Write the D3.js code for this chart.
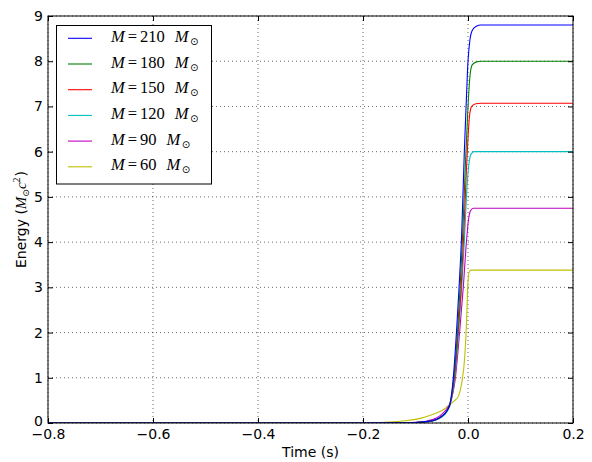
<!DOCTYPE html>
<html><head><meta charset="utf-8">
<script src="https://cdn.jsdelivr.net/npm/d3@7"></script>
<style>body{margin:0;background:#fff}svg{display:block}</style>
</head><body><svg id="c" width="592" height="462"></svg>
<script>
const xTicks = [-0.8, -0.6, -0.4, -0.2, 0.0, 0.2];
const yTicks = [0,1,2,3,4,5,6,7,8,9];
const masses = [210, 180, 150, 120, 90, 60];
const colors = ["#0000ff", "#008000", "#ff0000", "#00bfbf", "#bf00bf", "#bfbf00"];

const t210 = [-0.8,-0.2,-0.15,-0.1,-0.08,-0.06,-0.05,-0.04,-0.034,-0.028,-0.022,-0.017,-0.012,-0.007,-0.003,0.0,0.004,0.008,0.015,0.025,0.2];
const e210 = [0,0,0.003,0.01,0.03,0.08,0.15,0.27,0.44,1.0,2.0,3.0,4.2,6.0,7.2,8.0,8.5,8.68,8.77,8.8,8.8];
const t180 = [-0.8,-0.2,-0.15,-0.1,-0.08,-0.06,-0.05,-0.04,-0.034,-0.027,-0.02,-0.015,-0.01,-0.005,0.0,0.004,0.008,0.015,0.025,0.2];
const e180 = [0,0,0.003,0.01,0.03,0.08,0.15,0.27,0.44,1.0,2.0,3.0,4.2,5.7,7.0,7.7,7.92,7.98,8.0,8.0];
const t150 = [-0.8,-0.2,-0.15,-0.1,-0.08,-0.06,-0.05,-0.04,-0.034,-0.026,-0.019,-0.013,-0.008,-0.003,0.0,0.003,0.007,0.015,0.025,0.2];
const e150 = [0,0,0.003,0.01,0.03,0.08,0.15,0.27,0.42,1.0,2.0,3.0,4.2,5.6,6.3,6.8,7.0,7.06,7.07,7.07];
const t120 = [-0.8,-0.2,-0.15,-0.1,-0.08,-0.06,-0.05,-0.04,-0.034,-0.025,-0.018,-0.012,-0.007,-0.002,0.002,0.006,0.012,0.02,0.2];
const e120 = [0,0,0.002,0.008,0.025,0.07,0.13,0.25,0.4,1.0,2.0,3.0,4.0,5.2,5.75,5.95,6.0,6.0,6.0];
const t90 = [-0.8,-0.2,-0.15,-0.1,-0.08,-0.06,-0.05,-0.04,-0.034,-0.024,-0.016,-0.009,-0.003,0.001,0.005,0.01,0.02,0.2];
const e90 = [0,0,0.004,0.015,0.04,0.11,0.19,0.32,0.44,1.0,2.0,3.0,4.0,4.5,4.7,4.75,4.75,4.75];
const t60 = [-0.8,-0.2,-0.15,-0.12,-0.1,-0.08,-0.06,-0.045,-0.034,-0.025,-0.018,-0.012,-0.006,-0.0025,-0.0006,0.0025,0.006,0.02,0.2];
const e60 = [0,0,0.02,0.05,0.08,0.14,0.22,0.31,0.42,0.5,0.6,0.88,1.5,2.3,3.0,3.35,3.38,3.38,3.38];

const seriesT = [t210, t180, t150, t120, t90, t60];
const seriesE = [e210, e180, e150, e120, e90, e60];

const svg = d3.select("#c");
const L = 48, R = 573, T = 16, B = 423;
const x = d3.scaleLinear().domain([-0.8, 0.2]).range([L, R]);
const y = d3.scaleLinear().domain([0, 9]).range([B, T]);
const font = "DejaVu Sans, sans-serif";
const mathFont = "Liberation Serif, serif";

// grid
const g = svg.append("g");
xTicks.forEach(v => g.append("line").attr("x1", x(v)).attr("x2", x(v)).attr("y1", T).attr("y2", B)
  .attr("stroke", "#000").attr("stroke-width", 0.6).attr("stroke-dasharray", "1,3"));
yTicks.forEach(v => g.append("line").attr("x1", L).attr("x2", R).attr("y1", y(v)).attr("y2", y(v))
  .attr("stroke", "#000").attr("stroke-width", 0.6).attr("stroke-dasharray", "1,3"));

// lines
svg.append("clipPath").attr("id", "pc").append("rect").attr("x", L).attr("y", T).attr("width", R - L).attr("height", B - T);
const line = d3.line().x(d => x(d[0])).y(d => y(d[1])).curve(d3.curveMonotoneX);
for (let i = seriesT.length - 1; i >= 0; i--) {
  const pts = seriesT[i].map((t, j) => [t, seriesE[i][j]]);
  svg.append("path").attr("d", line(pts)).attr("fill", "none").attr("stroke", colors[i])
    .attr("stroke-width", 1.1).attr("clip-path", "url(#pc)");
}

// axes with inward ticks
const axB = svg.append("g").attr("transform", `translate(0,${B})`).call(d3.axisBottom(x).tickValues(xTicks).tickSizeInner(-5).tickSizeOuter(0).tickFormat(d => d3.format(".1f")(d).replace("-", "\u2212")));
const axT = svg.append("g").attr("transform", `translate(0,${T})`).call(d3.axisTop(x).tickValues(xTicks).tickSizeInner(-5).tickSizeOuter(0).tickFormat(""));
const axL = svg.append("g").attr("transform", `translate(${L},0)`).call(d3.axisLeft(y).tickValues(yTicks).tickSizeInner(-5).tickSizeOuter(0).tickFormat(d3.format("d")));
const axR = svg.append("g").attr("transform", `translate(${R},0)`).call(d3.axisRight(y).tickValues(yTicks).tickSizeInner(-5).tickSizeOuter(0).tickFormat(""));
[axB, axT, axL, axR].forEach(a => {
  a.select(".domain").remove();
  a.selectAll("line").attr("stroke", "#000").attr("stroke-width", 1);
  a.selectAll("text").attr("font-family", font).attr("font-size", 14).attr("fill", "#000");
});
axB.selectAll("text").attr("y", 15.5).attr("dy", 0);
axL.selectAll("text").attr("x", -5).attr("dy", d => d === 0 ? "0.2em" : "0.32em");
svg.append("rect").attr("x", L).attr("y", T).attr("width", R - L).attr("height", B - T)
  .attr("fill", "none").attr("stroke", "#000").attr("stroke-width", 1);

// axis labels
svg.append("text").attr("x", (L + R) / 2).attr("y", 457).attr("text-anchor", "middle")
  .attr("font-family", font).attr("font-size", 14).text("Time (s)");
const yl = svg.append("text").attr("transform", `translate(26,${(T + B) / 2}) rotate(-90)`).attr("text-anchor", "middle")
  .attr("font-family", font).attr("font-size", 14);
yl.append("tspan").text("Energy (");
yl.append("tspan").attr("font-family", mathFont).attr("font-style", "italic").attr("font-size", 15).text("M");
yl.append("tspan").attr("font-size", 9).attr("dy", 3).text("\u2299");
yl.append("tspan").attr("font-family", mathFont).attr("font-style", "italic").attr("font-size", 15).attr("dy", -3).text("c");
yl.append("tspan").attr("font-family", mathFont).attr("font-size", 10).attr("dy", -6).text("2");
yl.append("tspan").attr("dy", 6).attr("dx", 1).text(")");

// legend
const lg = svg.append("g");
lg.append("rect").attr("x", 56.5).attr("y", 25.5).attr("width", 155).attr("height", 158.5)
  .attr("fill", "#fff").attr("stroke", "#000").attr("stroke-width", 1);
masses.forEach((m, i) => {
  const yy = 38.3 + i * 25.7;
  lg.append("line").attr("x1", 68).attr("x2", 92).attr("y1", yy).attr("y2", yy).attr("stroke", colors[i]).attr("stroke-width", 1.1);
  const tx = lg.append("text").attr("x", 111).attr("y", yy + 3.5).attr("font-family", mathFont).attr("font-size", 16.5);
  tx.append("tspan").attr("font-style", "italic").text("M");
  tx.append("tspan").attr("dx", 3).text("=");
  tx.append("tspan").attr("dx", 3).text(m);
  tx.append("tspan").attr("dx", 10).attr("font-style", "italic").text("M");
  tx.append("tspan").attr("font-family", "DejaVu Sans").attr("font-size", 10).attr("dx", 1.5).attr("dy", 3).text("\u2299");
});
</script></body></html>
